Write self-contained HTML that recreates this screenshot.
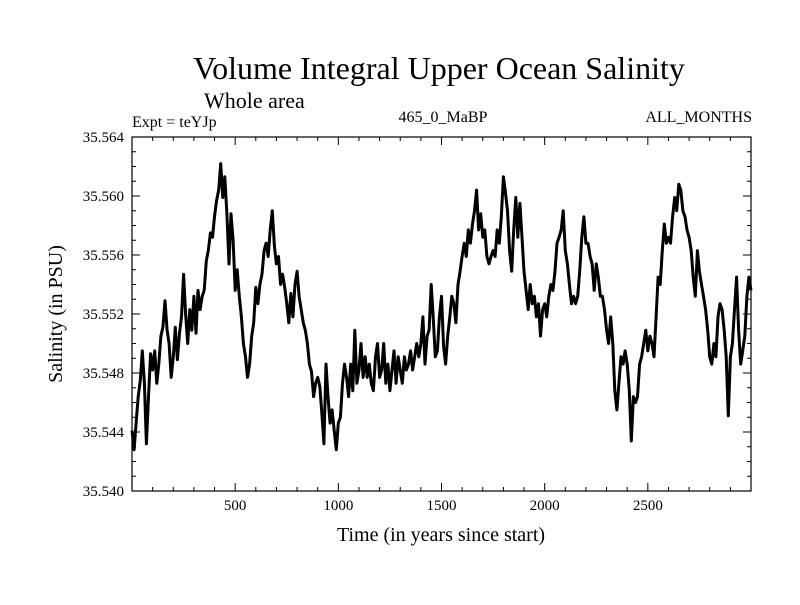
<!DOCTYPE html>
<html><head><meta charset="utf-8"><style>
html,body{margin:0;padding:0;background:#fff;}
svg text{font-family:"Liberation Serif",serif;fill:#000;}
</style></head><body>
<svg id="chart" width="800" height="600" viewBox="0 0 800 600" xmlns="http://www.w3.org/2000/svg">
<rect width="800" height="600" fill="#fff"/>
<text x="439" y="79" font-size="32" text-anchor="middle">Volume Integral Upper Ocean Salinity</text>
<text x="204" y="108" font-size="22">Whole area</text>
<text x="132" y="127" font-size="16">Expt = teYJp</text>
<text x="443" y="122" font-size="16" text-anchor="middle">465_0_MaBP</text>
<text x="752" y="122" font-size="16" text-anchor="end">ALL_MONTHS</text>
<text transform="translate(62,314) rotate(-90)" font-size="20" text-anchor="middle">Salinity (in PSU)</text>
<text x="441" y="541" font-size="20" text-anchor="middle">Time (in years since start)</text>
<g id="axes"></g>
<g id="plot"></g>
<rect x="132" y="137" width="619" height="354" fill="none" stroke="#000" stroke-width="1.2"/>
</svg>
<script>
const xTickValues = [500, 1000, 1500, 2000, 2500];
const yTickLabels = ["35.540","35.544","35.548","35.552","35.556","35.560","35.564"];
const years = [];
for (let i = 0; i <= 300; i++) years.push(i * 10);
// salinity anomaly above 35.540 in units of 0.001 PSU, every 10 years
const salinityOffset = [
4.1,2.8,4.6,6.4,7.5,9.5,7.3,3.2,6.4,9.3,
8.2,9.5,7.3,8.6,10.5,11.1,12.9,10.9,10.0,7.7,
9.1,11.1,8.9,10.7,11.8,14.7,12.0,10.0,12.3,10.9,
13.2,10.7,13.6,12.3,13.2,13.6,15.6,16.3,17.5,17.2,
18.6,19.7,20.4,22.2,19.9,21.3,18.8,15.4,18.8,17.0,
13.6,15.0,13.2,11.8,10.0,9.1,7.7,8.6,10.5,11.4,
13.8,12.7,14.0,14.7,16.3,16.8,15.9,17.7,19.0,16.6,
15.4,15.9,14.0,14.7,13.8,12.7,11.4,13.4,11.8,14.0,
14.9,13.2,12.3,11.4,10.9,10.0,8.6,8.1,6.4,7.3,
7.7,7.1,5.3,3.2,8.6,6.4,4.6,5.5,4.1,2.8,
4.6,5.0,7.3,8.6,7.7,6.4,8.6,6.8,10.9,7.3,
8.2,10.0,7.7,9.1,7.7,8.6,7.3,6.8,9.1,10.0,
7.7,8.2,10.0,7.3,8.6,6.8,8.2,9.5,7.3,9.1,
8.2,7.3,9.1,8.2,8.6,9.5,8.2,9.1,10.0,9.1,
10.0,11.8,8.6,10.5,10.9,14.0,11.8,9.1,9.5,11.8,
13.2,9.8,8.6,10.5,11.8,13.2,12.7,11.4,14.0,14.9,
15.9,16.8,15.9,17.7,16.8,18.1,19.0,20.4,17.7,18.8,
17.2,17.7,15.9,15.4,15.9,16.3,15.9,17.7,16.8,18.6,
21.3,20.2,19.0,16.3,14.9,17.7,19.9,17.2,19.5,17.2,
14.9,13.6,12.3,14.0,12.7,13.2,11.8,12.7,10.5,12.3,
12.7,11.8,13.2,14.0,13.6,14.9,16.8,17.2,17.7,19.0,
16.3,15.4,14.0,12.7,13.2,12.7,13.2,14.9,17.2,18.6,
16.8,16.8,15.9,15.4,13.6,15.4,14.5,13.2,13.2,12.3,
10.9,10.0,11.8,10.0,6.8,5.5,7.3,9.1,8.6,9.5,
8.6,6.8,3.4,6.4,6.0,6.4,8.6,9.1,10.0,10.9,
9.5,10.5,10.0,9.1,11.8,14.5,14.0,16.3,18.1,16.8,
17.2,16.8,18.6,19.9,19.0,20.8,20.4,19.0,18.6,17.7,
17.2,16.3,14.5,13.2,16.3,14.9,14.0,13.2,12.3,10.9,
9.1,8.6,10.0,9.1,11.8,12.7,12.3,10.9,9.1,5.1,
9.1,10.0,12.3,14.5,10.9,8.6,9.5,10.5,13.2,14.5,
13.6];
const NS = "http://www.w3.org/2000/svg";
const L = 132, R = 751, T = 137, B = 491;
const xMin = 0, xMax = 3000, yMin = 35.540, yMax = 35.564;
function xs(v){ return L + (v - xMin) / (xMax - xMin) * (R - L); }
function ys(v){ return B - (v - yMin) / (yMax - yMin) * (B - T); }
const axes = document.getElementById('axes');
function line(x1,y1,x2,y2,name){
  const l = document.createElementNS(NS,'line');
  l.setAttribute('x1',x1);l.setAttribute('y1',y1);l.setAttribute('x2',x2);l.setAttribute('y2',y2);
  l.setAttribute('stroke','#000');l.setAttribute('stroke-width','1');
  
  
  axes.appendChild(l);
}
function text(x,y,s,anchor,name){
  const t = document.createElementNS(NS,'text');
  t.setAttribute('x',x);t.setAttribute('y',y);t.setAttribute('font-size','15');t.setAttribute('text-anchor',anchor);
  t.textContent = s;
  
  
  axes.appendChild(t);
}
for (let v = 100; v < xMax; v += 100) {
  const major = v % 500 === 0, len = major ? 8 : 4, x = xs(v);
  line(x,B,x,B-len,'x-tick');
  line(x,T,x,T+len,'x-tick-top');
}
xTickValues.forEach(v => text(xs(v), B+19, String(v), 'middle', 'x-tick-label'));
for (let k = 1; k < 24; k++) {
  const v = yMin + k*0.001, major = k % 4 === 0, len = major ? 8 : 4, y = ys(v);
  line(L,y,L+len,y,'y-tick');
  line(R,y,R-len,y,'y-tick-right');
}
yTickLabels.forEach(s => text(L-8, ys(parseFloat(s))+5, s, 'end', 'y-tick-label'));
const pts = years.map((yr,i) => xs(yr).toFixed(1) + ',' + ys(yMin + salinityOffset[i]*0.001).toFixed(1)).join(' ');
const pl = document.createElementNS(NS,'polyline');
pl.setAttribute('points', pts);
pl.setAttribute('fill','none');pl.setAttribute('stroke','#000');pl.setAttribute('stroke-width','3');pl.setAttribute('stroke-linejoin','round');


document.getElementById('plot').appendChild(pl);
</script>
</body></html>
